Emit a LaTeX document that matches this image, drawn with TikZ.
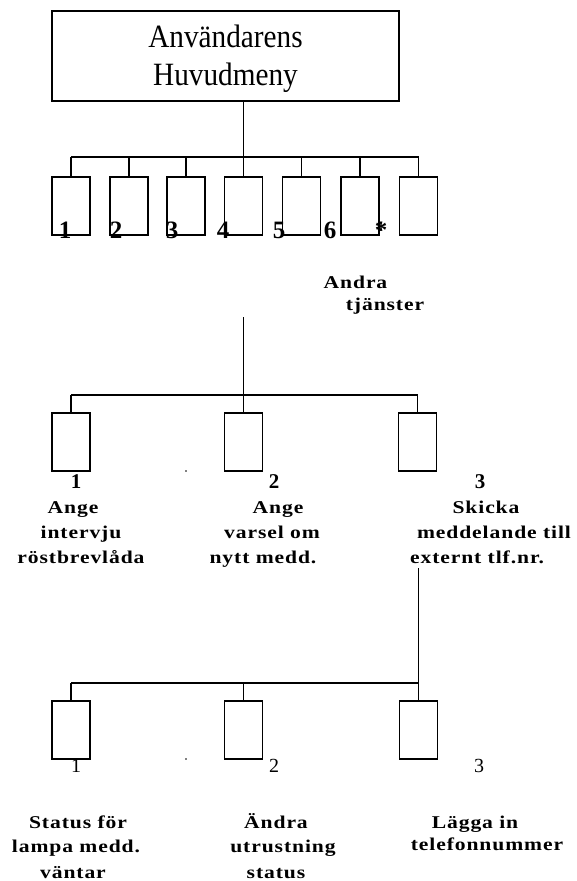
\documentclass[tikz,border=0pt]{standalone}
\usepackage{fontspec}
\setmainfont{Liberation Serif}
\newfontfamily\spaced{Liberation Serif}[LetterSpace=5,FakeStretch=1.2]
\newfontfamily\topfont{Liberation Serif}[FakeStretch=0.9]
\begin{document}
\begin{tikzpicture}[x=1pt,y=-1pt,
  conn/.style={line width=1.2pt},
  menubox/.style={draw,line width=1.2pt,minimum width=38pt,minimum height=58pt,inner sep=0pt},
  lbl/.style={anchor=base,inner sep=0pt,font=\spaced\bfseries\fontsize{18}{20}\selectfont},
  toplbl/.style={anchor=base,inner sep=0pt,font=\topfont\fontsize{32.5}{36}\selectfont},
  dig/.style={anchor=base,inner sep=0pt,font=\bfseries\fontsize{25}{26}\selectfont},
  digb/.style={anchor=base,inner sep=0pt,font=\bfseries\fontsize{21}{24}\selectfont},
  digr/.style={anchor=base,inner sep=0pt,font=\fontsize{20}{22}\selectfont},
  speck/.style={circle,fill,inner sep=0pt,minimum size=1.6pt}
]
\useasboundingbox (0,0) rectangle (576,881);
% top box
\node[draw,line width=1.2pt,minimum width=347pt,minimum height=90pt,inner sep=0pt] (top) at (225.5,56) {};
\node[toplbl] (toptxt1) at (225.5,47) {Användarens};
\node[toplbl] (toptxt2) at (225.5,85) {Huvudmeny};
% row 1
\foreach \i/\x in {1/71,2/129,3/186,4/243.5,5/301.5,6/360,7/418.5}
  \node[menubox] (b\i) at (\x,206) {};
\coordinate (bus1) at (0,157);
\draw[conn] (b4.north |- top.south) -- (b4.north);
\draw[conn] (b1.north |- bus1) -- (b7.north |- bus1);
\foreach \i in {1,2,3,5,6,7}
  \draw[conn] (b\i.north) -- (b\i.north |- bus1);
\node[dig] (d1) at (65,238) {1};
\node[dig] (d2) at (116,238) {2};
\node[dig] (d3) at (172,238) {3};
\node[dig] (d4) at (223,238) {4};
\node[dig] (d5) at (279,238) {5};
\node[dig] (d6) at (330,238) {6};
\node[dig] (d7) at (381,238) {*};
% Andra tjanster
\node[lbl] (andra1) at (355.5,288) {Andra};
\node[lbl] (andra2) at (385,310) {tjänster};
% row 2
\coordinate (at2) at (243.5,317);
\coordinate (bus2) at (0,395);
\foreach \i/\x in {1/71,2/243.5,3/417.5}
  \node[menubox] (m\i) at (\x,442) {};
\draw[conn] (at2) -- (m2.north);
\draw[conn] (m1.north |- bus2) -- (m3.north |- bus2);
\draw[conn] (m1.north) -- (m1.north |- bus2);
\draw[conn] (m3.north) -- (m3.north |- bus2);
\node[speck] (sp1) at (186,471) {};
\node[digb] (e1) at (76,488) {1};
\node[digb] (e2) at (274,488) {2};
\node[digb] (e3) at (480,488) {3};
\node[lbl] (t11) at (73,513) {Ange};
\node[lbl] (t12) at (81,538) {intervju};
\node[lbl] (t13) at (81,563) {röstbrevlåda};
\node[lbl] (t21) at (278,513) {Ange};
\node[lbl] (t22) at (272,538) {varsel om};
\node[lbl] (t23) at (263,563) {nytt medd.};
\node[lbl] (t31) at (486,513) {Skicka};
\node[lbl] (t32) at (494,538) {meddelande till};
\node[lbl] (t33) at (477,563) {externt tlf.nr.};
% row 3
\coordinate (ext) at (418.5,568);
\coordinate (bus3) at (0,683);
\foreach \i/\x in {1/71,2/243.5,3/418.5}
  \node[menubox] (s\i) at (\x,730) {};
\draw[conn] (ext) -- (s3.north);
\draw[conn] (s1.north |- bus3) -- (s3.north |- bus3);
\draw[conn] (s1.north) -- (s1.north |- bus3);
\draw[conn] (s2.north) -- (s2.north |- bus3);
\node[speck] (sp2) at (186,759) {};
\node[digr] (f1) at (76,772) {1};
\node[digr] (f2) at (274,772) {2};
\node[digr] (f3) at (479,772) {3};
\node[lbl] (u11) at (78,828) {Status för};
\node[lbl] (u12) at (76,852) {lampa medd.};
\node[lbl] (u13) at (73,878) {väntar};
\node[lbl] (u21) at (276,828) {Ändra};
\node[lbl] (u22) at (283,852) {utrustning};
\node[lbl] (u23) at (276,878) {status};
\node[lbl] (u31) at (475,828) {Lägga in};
\node[lbl] (u32) at (487,850) {telefonnummer};
\end{tikzpicture}
\end{document}
